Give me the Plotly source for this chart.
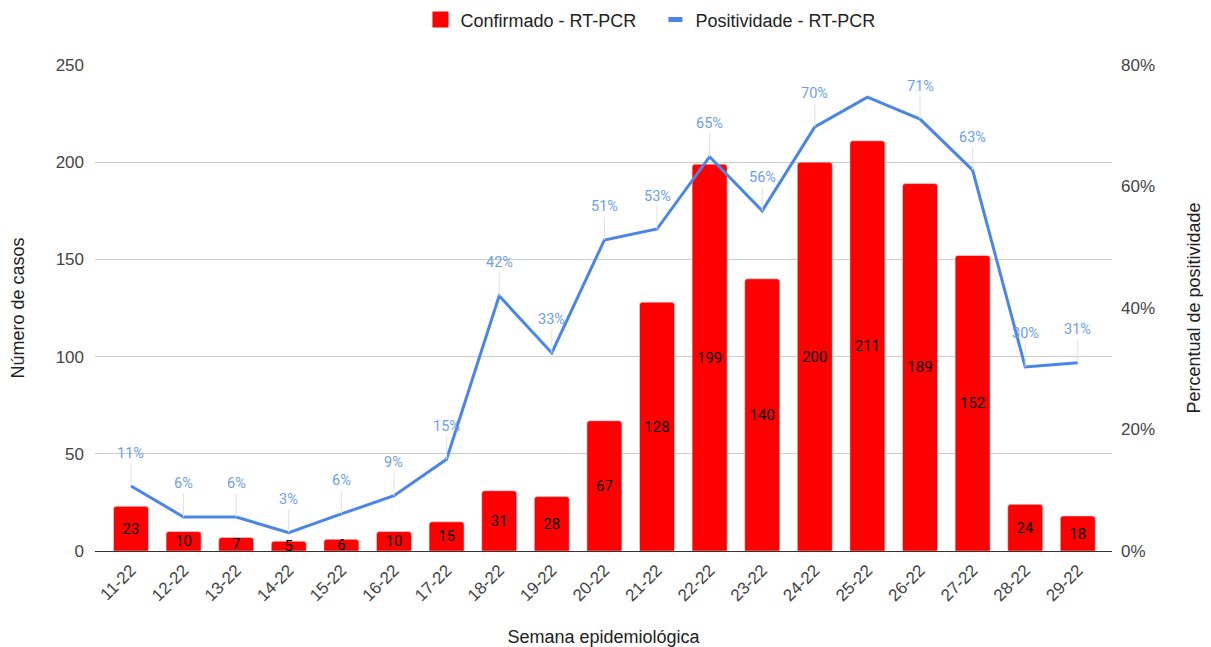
import plotly.graph_objects as go

semanas = ["11-22", "12-22", "13-22", "14-22", "15-22", "16-22", "17-22", "18-22", "19-22", "20-22",
           "21-22", "22-22", "23-22", "24-22", "25-22", "26-22", "27-22", "28-22", "29-22"]
confirmados = [23, 10, 7, 5, 6, 10, 15, 31, 28, 67, 128, 199, 140, 200, 211, 189, 152, 24, 18]
positividade = [10.7, 5.6, 5.6, 3.0, 6.1, 9.1, 15.1, 42.0, 32.6, 51.2, 53.0, 64.9, 56.0, 69.8, 74.7, 71.1, 62.7, 30.3, 31.0]
rotulos_pos = ["11%", "6%", "6%", "3%", "6%", "9%", "15%", "42%", "33%", "51%",
               "53%", "65%", "56%", "70%", "", "71%", "63%", "30%", "31%"]

FONT = "Arial, 'Liberation Sans', sans-serif"
LABEL_FONT = "Roboto, Arial, sans-serif"
RED = "#ff0000"
BLUE = "#4a86e8"
LABEL_BLUE = "#6d9eeb"

fig = go.Figure()
fig.add_trace(go.Bar(
    x=semanas, y=confirmados, name="Confirmado - RT-PCR", showlegend=False,
    marker=dict(color=RED),
    text=[str(v) for v in confirmados], textposition="inside", insidetextanchor="middle",
    textfont=dict(color="#000000", size=15, family=LABEL_FONT), textangle=0,
    constraintext="none", cliponaxis=False,
))
fig.add_trace(go.Scatter(
    x=semanas, y=positividade, name="Positividade - RT-PCR", yaxis="y2", showlegend=False,
    mode="lines", line=dict(color=BLUE, width=3),
))
# legend entries (swatches styled like the original)
fig.add_trace(go.Scatter(
    x=[None], y=[None], name="Confirmado - RT-PCR", mode="markers",
    marker=dict(symbol="square", size=16, color=RED, line=dict(width=0)),
))
fig.add_trace(go.Scatter(
    x=[None], y=[None], name="Positividade - RT-PCR", mode="markers",
    marker=dict(symbol="line-ew", size=10, color=BLUE, line=dict(width=6, color=BLUE)),
))

for s, v, t in zip(semanas, positividade, rotulos_pos):
    if not t:
        continue
    fig.add_annotation(
        x=s, y=v, xref="x", yref="y2", text=t, showarrow=True,
        arrowhead=0, arrowwidth=1, arrowcolor="#e0e0e0", ax=0, ay=-33,
        font=dict(color=LABEL_BLUE, size=14.5, family=LABEL_FONT),
    )

fig.update_layout(
    width=1211, height=647,
    margin=dict(l=87, r=107, t=57, b=104, autoexpand=False),
    paper_bgcolor="white", plot_bgcolor="white",
    font=dict(family=FONT, color="#444444", size=17),
    bargap=0.335, barcornerradius=3,
    legend=dict(orientation="h", x=0.32, xanchor="left", y=1.093, yanchor="middle",
                font=dict(size=18, color="#222222"), traceorder="normal",
                entrywidth=190, entrywidthmode="pixels", itemsizing="trace"),
    xaxis=dict(
        range=[-0.684, 18.65],
        tickangle=-45, tickfont=dict(size=17, color="#444444"),
        title=dict(text="Semana epidemiológica", font=dict(size=18, color="#222222"), standoff=26),
        showgrid=False, showline=False, ticks="", ticklabelstandoff=5,
    ),
    yaxis=dict(
        range=[0, 250], tickvals=[0, 50, 100, 150, 200, 250],
        gridcolor="#cccccc", gridwidth=1, zeroline=True, zerolinecolor="#333333", zerolinewidth=1,
        tickfont=dict(size=17, color="#444444"), ticklabelstandoff=10,
        title=dict(text="Número de casos", font=dict(size=18, color="#222222"), standoff=34),
    ),
    yaxis2=dict(
        overlaying="y", side="right", range=[0, 80], tickvals=[0, 20, 40, 60, 80],
        ticktext=["0%", "20%", "40%", "60%", "80%"], showgrid=False, zeroline=False,
        tickfont=dict(size=17, color="#444444"), ticklabelstandoff=8,
        title=dict(text="Percentual de positividade", font=dict(size=18, color="#222222"), standoff=33),
    ),
)

fig.write_html("out.html")
